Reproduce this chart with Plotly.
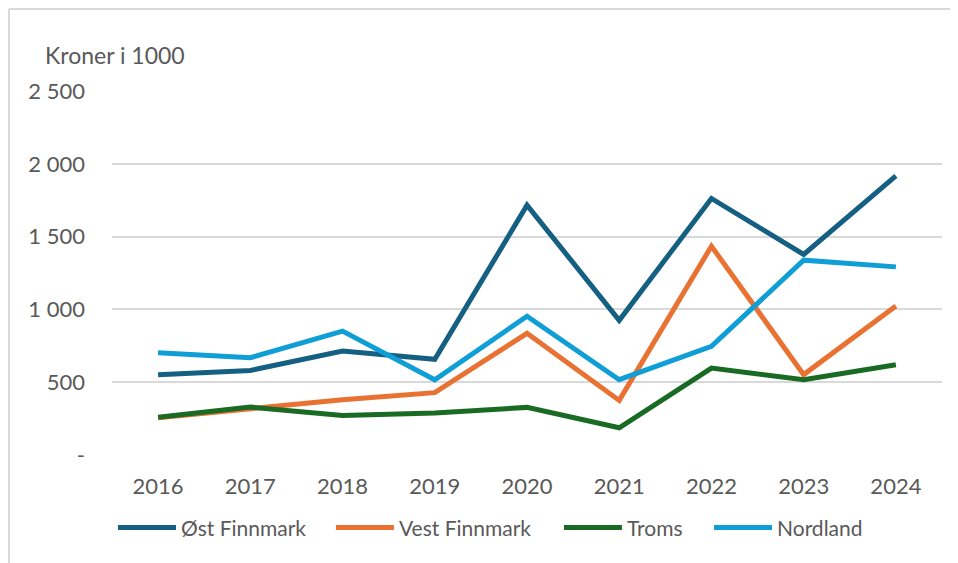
import plotly.graph_objects as go

years = ["2016", "2017", "2018", "2019", "2020", "2021", "2022", "2023", "2024"]

ost_finnmark = [552, 581, 714, 657, 1716, 925, 1762, 1377, 1917]
vest_finnmark = [256, 322, 380, 428, 836, 375, 1434, 552, 1023]
troms = [260, 329, 272, 288, 327, 187, 597, 517, 620]
nordland = [703, 668, 851, 517, 953, 517, 746, 1338, 1292]

y_ticks = [0, 500, 1000, 1500, 2000, 2500]
y_ticktext = ["-", "500", "1 000", "1 500", "2 000", "2 500"]

series = [
    ("Øst Finnmark", ost_finnmark, "#156082"),
    ("Vest Finnmark", vest_finnmark, "#E97132"),
    ("Troms", troms, "#196B24"),
    ("Nordland", nordland, "#0F9ED5"),
]

FONT = "Lato"
GREY = "#595959"

# one legend per series so each entry sits where the original has it
legend_ids = ["legend", "legend2", "legend3", "legend4"]
legend_x = [0.0012, 0.2638, 0.5385, 0.7193]

fig = go.Figure()
for (name, vals, color), lid in zip(series, legend_ids):
    fig.add_trace(go.Scatter(
        x=years, y=vals, name=name, mode="lines",
        line=dict(color=color, width=5), legend=lid,
    ))

legend_style = dict(
    orientation="h", xanchor="left", y=-0.2, yanchor="middle",
    font=dict(family=FONT, size=21, color=GREY),
    itemwidth=58, bgcolor="rgba(0,0,0,0)",
)
legends = {lid: dict(legend_style, x=lx) for lid, lx in zip(legend_ids, legend_x)}

fig.update_layout(
    width=958, height=563,
    margin=dict(l=104, r=24, t=83, b=116),
    paper_bgcolor="white", plot_bgcolor="white",
    font=dict(family=FONT, size=22, color=GREY),
    showlegend=True,
    xaxis=dict(
        type="category", range=[-0.5, 8.5], showgrid=False, zeroline=False,
        showline=False, ticks="", ticklabelstandoff=16,
        tickfont=dict(family=FONT, size=22, color=GREY),
    ),
    yaxis=dict(
        range=[0, 2500], tickvals=y_ticks, ticktext=y_ticktext,
        showgrid=True, gridcolor="#d9d9d9", gridwidth=1.5, zeroline=False,
        showline=False, ticks="", ticklabelstandoff=26,
        tickfont=dict(family=FONT, size=22, color=GREY),
    ),
    annotations=[dict(
        text="Kroner i 1000", xref="paper", yref="paper", x=-0.083, y=1.0,
        xanchor="left", yanchor="bottom", yshift=20, showarrow=False,
        font=dict(family=FONT, size=23, color=GREY),
    )],
    shapes=[
        # top and left frame of the chart area
        dict(type="line", xref="paper", yref="paper", xsizemode="pixel", ysizemode="pixel",
             xanchor=0, yanchor=1, x0=-103, x1=846, y0=82, y1=82,
             line=dict(color="#d9d9d9", width=2)),
        dict(type="line", xref="paper", yref="paper", xsizemode="pixel", ysizemode="pixel",
             xanchor=0, yanchor=1, x0=-103, x1=-103, y0=82, y1=-480,
             line=dict(color="#d9d9d9", width=2)),
    ],
    **legends,
)

fig.write_html("out.html")
